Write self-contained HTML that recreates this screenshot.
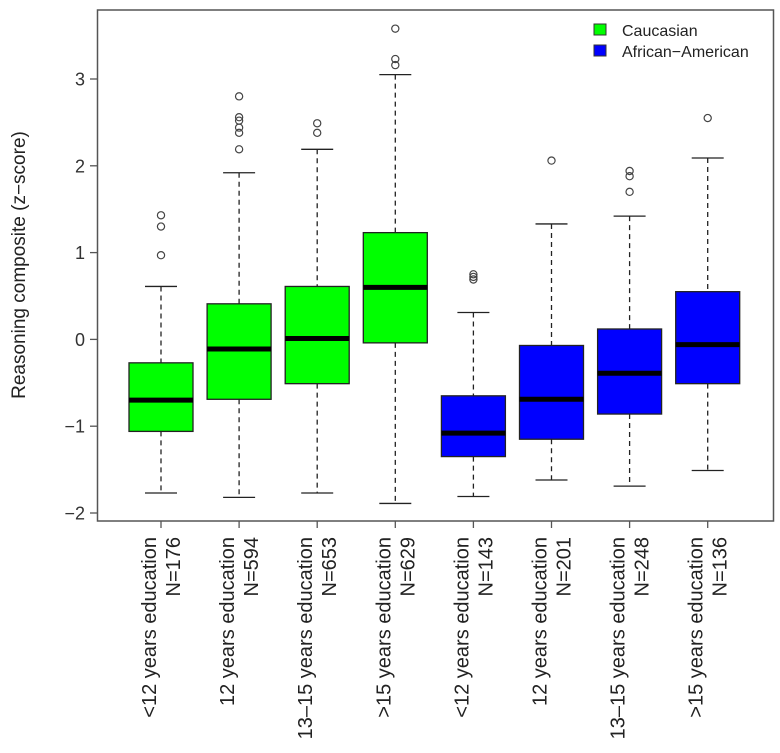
<!DOCTYPE html>
<html><head><meta charset="utf-8"><style>
html,body{margin:0;padding:0;background:#fff;}
svg{display:block;font-family:"Liberation Sans",Arial,sans-serif;}
</style></head><body>
<svg id="chart" width="780" height="753" viewBox="0 0 780 753" xmlns="http://www.w3.org/2000/svg">
<rect x="97.5" y="10" width="676" height="511" fill="none" stroke="#555" stroke-width="1.5"/>
<text transform="translate(25,265) rotate(-90)" text-anchor="middle" font-size="19" fill="#222">Reasoning composite (z−score)</text>
<g id="yaxis"></g>
<g id="boxes"></g>
<g id="xaxis"></g>
<g>
<g>
<rect x="594" y="24" width="12" height="11" fill="#00ff00" stroke="#333" stroke-width="1"/>
<text x="622" y="36" font-size="16" fill="#222">Caucasian</text></g>
<g>
<rect x="594" y="45" width="12" height="11" fill="#0000ff" stroke="#333" stroke-width="1"/>
<text x="622" y="57" font-size="16" fill="#222">African−American</text></g>
</g>
</svg>
<script>
const categories = ["<12 years education","12 years education","13\u201315 years education",">15 years education","<12 years education","12 years education","13\u201315 years education",">15 years education"];
const counts = ["N=176","N=594","N=653","N=629","N=143","N=201","N=248","N=136"];
const groups = ["caucasian","caucasian","caucasian","caucasian","african-american","african-american","african-american","african-american"];
const lowWhisker = [-1.77,-1.82,-1.77,-1.89,-1.81,-1.62,-1.69,-1.51];
const q1 = [-1.06,-0.69,-0.51,-0.04,-1.35,-1.15,-0.86,-0.51];
const medians = [-0.70,-0.11,0.01,0.60,-1.08,-0.69,-0.39,-0.06];
const q3 = [-0.27,0.41,0.61,1.23,-0.65,-0.07,0.12,0.55];
const highWhisker = [0.61,1.92,2.19,3.05,0.31,1.33,1.42,2.09];
const outliers = [[1.43,1.30,0.97],[2.80,2.56,2.52,2.44,2.38,2.19],[2.49,2.38],[3.58,3.23,3.16],[0.75,0.72,0.69],[2.06],[1.94,1.88,1.70],[2.55]];
const yTicks = [-2,-1,0,1,2,3];

const NS="http://www.w3.org/2000/svg";
const colors={"caucasian":"#00ff00","african-american":"#0000ff"};
function yS(v){return 339.4-86.8*v;}
function xS(i){return 161+78.1*i;}
function mk(tag,attrs,parent){const e=document.createElementNS(NS,tag);for(const k in attrs)e.setAttribute(k,attrs[k]);parent.appendChild(e);return e;}

const ya=document.getElementById('yaxis');
yTicks.forEach(t=>{
  const y=yS(t);
  const l=mk('line',{x1:90,x2:97.5,y1:y,y2:y,stroke:'#555','stroke-width':1.3},ya);
  
  
  const tx=mk('text',{x:85,y:y+6.5,'text-anchor':'end','font-size':18,fill:'#333'},ya);
  
  
  tx.textContent=t<0?'\u2212'+Math.abs(t):String(t);
});

const bx=document.getElementById('boxes');
categories.forEach((c,i)=>{
  const cx=xS(i), hw=32, cw=16;
  const g=mk('g',{},bx);
  
  
  mk('line',{x1:cx,x2:cx,y1:yS(highWhisker[i]),y2:yS(q3[i]),stroke:'#222','stroke-width':1.3,'stroke-dasharray':'5,4'},g);
  mk('line',{x1:cx,x2:cx,y1:yS(q1[i]),y2:yS(lowWhisker[i]),stroke:'#222','stroke-width':1.3,'stroke-dasharray':'5,4'},g);
  mk('line',{x1:cx-cw,x2:cx+cw,y1:yS(highWhisker[i]),y2:yS(highWhisker[i]),stroke:'#222','stroke-width':1.3},g);
  mk('line',{x1:cx-cw,x2:cx+cw,y1:yS(lowWhisker[i]),y2:yS(lowWhisker[i]),stroke:'#222','stroke-width':1.3},g);
  mk('rect',{x:cx-hw,y:yS(q3[i]),width:2*hw,height:yS(q1[i])-yS(q3[i]),fill:colors[groups[i]],stroke:'#222','stroke-width':1.3},g);
  mk('line',{x1:cx-hw,x2:cx+hw,y1:yS(medians[i]),y2:yS(medians[i]),stroke:'#000','stroke-width':5},g);
  outliers[i].forEach(o=>{
    const p=mk('circle',{cx:cx,cy:yS(o),r:3.6,fill:'none',stroke:'#444','stroke-width':1.2},g);
    
    
  });
});

const xa=document.getElementById('xaxis');
categories.forEach((c,i)=>{
  const cx=xS(i);
  const t=mk('line',{x1:cx,x2:cx,y1:521,y2:528,stroke:'#555','stroke-width':1.3},xa);
  
  
  const l1=mk('text',{transform:'translate('+(cx-5)+',537) rotate(-90)','text-anchor':'end','font-size':20,fill:'#222'},xa);
  
  
  l1.textContent=c;
  const l2=mk('text',{transform:'translate('+(cx+19)+',537) rotate(-90)','text-anchor':'end','font-size':20,fill:'#222'},xa);
  
  
  l2.textContent=counts[i];
});
</script>
</body></html>
